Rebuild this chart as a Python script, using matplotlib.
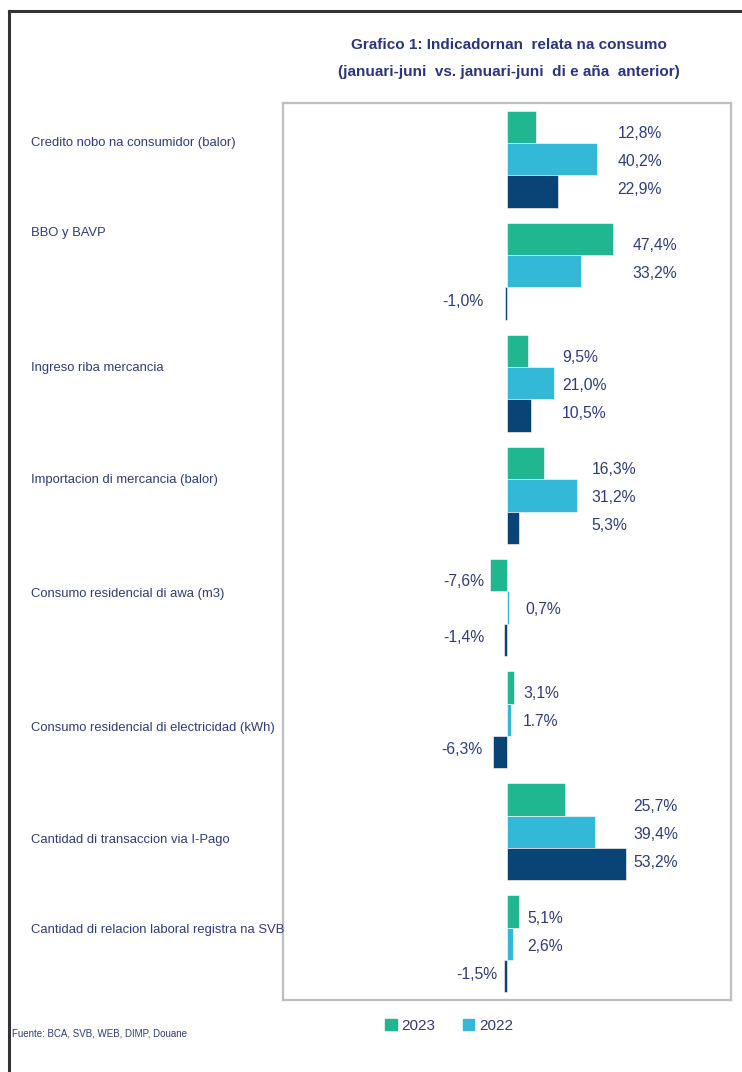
import numpy as np
import matplotlib
matplotlib.use('Agg')
import matplotlib.pyplot as plt
import matplotlib.transforms as mtransforms
from matplotlib.lines import Line2D
from matplotlib.patches import Patch

# ------------------------
# data
# ------------------------
categories = ['Credito nobo na consumidor (balor)',
              'BBO y BAVP',
              'Ingreso riba mercancia',
              'Importacion di mercancia (balor)',
              'Consumo residencial di awa (m3)',
              'Consumo residencial di electricidad (kWh)',
              'Cantidad di transaccion via I-Pago',
              'Cantidad di relacion laboral registra na SVB']
vals_2023 = [12.8, 47.4, 9.5, 16.3, -7.6, 3.1, 25.7, 5.1]
vals_2022 = [40.2, 33.2, 21.0, 31.2, 0.7, 1.7, 39.4, 2.6]
vals_prev = [22.9, -1.0, 10.5, 5.3, -1.4, -6.3, 53.2, -1.5]
series_names = ['2023', '2022', None]

# ------------------------
# layout
# ------------------------
col_green = '#1FB690'
col_blue = '#33B8D8'
col_navy = '#0A4477'
txt_col = '#2F3B80'
fonts = ['Liberation Sans Narrow', 'DejaVu Sans Condensed', 'Liberation Sans', 'DejaVu Sans']

pos_label_x = [49.6, 56.2, 24.6, 37.9, 8.0, 7.1, 56.7, 8.9]
neg_label_x = [-10.0, -10.7, -10.0, -10.0, -10.3, -11.2, -10.0, -4.5]
cat_label_dy = [-0.14, -0.34, -0.14, -0.14, -0.12, 0.07, 0.07, -0.12]
comma_exceptions = {(1, 5)}   # series index, category index printed with '.'

plt.rcParams['font.family'] = fonts

fig = plt.figure(figsize=(7.42, 10.72), dpi=100)
ax = fig.add_axes([283/742, 1 - 1000/1072, 448/742, 897/1072])

h = 0.288
lab_step = 0.25
y = np.arange(len(categories))
series = [vals_2023, vals_2022, vals_prev]
colors = [col_green, col_blue, col_navy]
for s, (vals, c, name) in enumerate(zip(series, colors, series_names)):
    yy = y + (s - 1) * h
    ax.barh(yy, vals, height=h, color=c, edgecolor='white', linewidth=0.4,
            label=name if name else '_nolegend_')
    for i, v in enumerate(vals):
        txt = f'{v:.1f}%'
        if (s, i) not in comma_exceptions:
            txt = txt.replace('.', ',')
        ty = y[i] + (s - 1) * lab_step + 0.02
        if v >= 0:
            ax.text(pos_label_x[i], ty, txt, ha='left', va='center',
                    fontsize=11.3, color=txt_col)
        else:
            ax.text(neg_label_x[i], ty, txt, ha='right', va='center',
                    fontsize=11.3, color=txt_col)

ax.set_xlim(-100.8, 100.5)
ax.set_ylim(len(categories) - 0.5, -0.5)
ax.set_xticks([])
ax.set_yticks([])
for sp in ax.spines.values():
    sp.set_color('#BFBFBF')
    sp.set_linewidth(1.6)

# category labels (left, outside the plot box)
cat_tf = mtransforms.blended_transform_factory(fig.transFigure, ax.transData)
for i, cat in enumerate(categories):
    ax.text(31/742, i + cat_label_dy[i], cat, transform=cat_tf,
            fontsize=9.4, color=txt_col, ha='left', va='center')

fig.text(509/742, 1 - 45/1072, 'Grafico 1: Indicadornan  relata na consumo',
         ha='center', va='center', fontsize=11, fontweight='bold', color='#2A3580')
fig.text(509/742, 1 - 72/1072, '(januari-juni  vs. januari-juni  di e aña  anterior)',
         ha='center', va='center', fontsize=11, fontweight='bold', color='#2A3580')

handles = [Patch(color=col_green, label='2023'), Patch(color=col_blue, label='2022')]
fig.legend(handles=handles, loc='center', bbox_to_anchor=(449/742, 1 - 1026/1072),
           ncol=2, frameon=False, fontsize=11, labelcolor=txt_col,
           handlelength=0.75, handleheight=0.75, handletextpad=0.3, columnspacing=1.8)

fig.text(12/742, 1 - 1033/1072, 'Fuente: BCA, SVB, WEB, DIMP, Douane',
         ha='left', va='center', fontsize=7, color=txt_col)

# outer frame (top and left edges)
fig.add_artist(Line2D([9/742, 1], [1 - 11/1072, 1 - 11/1072], transform=fig.transFigure,
                      color='#333333', linewidth=2.2))
fig.add_artist(Line2D([9/742, 9/742], [0, 1 - 11/1072], transform=fig.transFigure,
                      color='#333333', linewidth=2.2))

fig.savefig('out.png', dpi=100)
